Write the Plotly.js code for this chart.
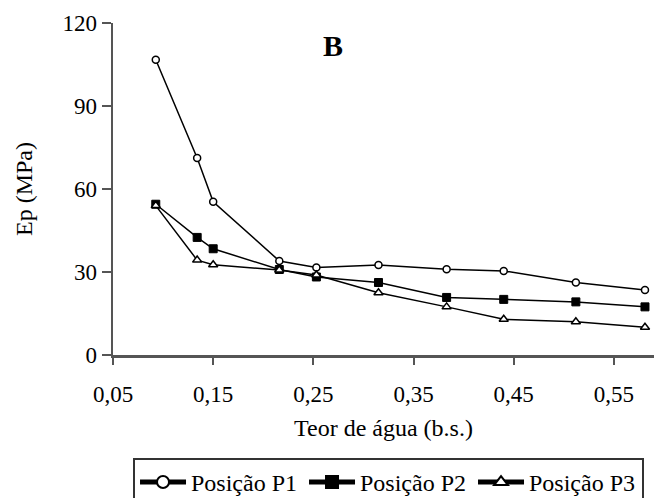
<!DOCTYPE html>
<html>
<head>
<meta charset="utf-8">
<script src="https://cdn.plot.ly/plotly-3.0.1.min.js"></script>
<style>html,body{margin:0;padding:0;background:#fff;}#chart{width:654px;height:498px;}</style>
</head>
<body>
<div id="chart"></div>
<script>
// Data
const teorAgua = [0.0927, 0.134, 0.150, 0.216, 0.253, 0.315, 0.383, 0.440, 0.512, 0.581];
const epP1 = [106.7, 71.2, 55.4, 34.0, 31.6, 32.5, 31.0, 30.4, 26.2, 23.5];
const epP2 = [54.5, 42.5, 38.4, 30.9, 28.2, 26.2, 20.8, 20.1, 19.2, 17.4];
const epP3 = [54.0, 34.3, 32.6, 30.7, 28.9, 22.5, 17.4, 12.9, 12.0, 10.0];
const seriesNames = ["Posição P1", "Posição P2", "Posição P3"];
const yTicks = [0, 30, 60, 90, 120];
const xTicks = [0.05, 0.15, 0.25, 0.35, 0.45, 0.55];

const FONT = "'Liberation Serif', 'Times New Roman', serif";
const lineStyle = {color: "#000", width: 1.5};

const traces = [
  {x: teorAgua, y: epP1, name: seriesNames[0], mode: "lines+markers", line: lineStyle,
   marker: {symbol: "circle", size: 7, color: "#fff", line: {color: "#000", width: 1.5}}},
  {x: teorAgua, y: epP2, name: seriesNames[1], mode: "lines+markers", line: lineStyle,
   marker: {symbol: "square", size: 8, color: "#000", line: {color: "#000", width: 1}}},
  {x: teorAgua, y: epP3, name: seriesNames[2], mode: "lines+markers", line: lineStyle,
   marker: {symbol: "triangle-up", size: 8, color: "#fff", line: {color: "#000", width: 1.5}}}
];

const layout = {
  width: 654, height: 498,
  margin: {l: 113, r: 0, t: 22.5, b: 143, autoexpand: false},
  paper_bgcolor: "#fff", plot_bgcolor: "#fff",
  separators: ",.",
  font: {family: FONT, size: 23, color: "#000"},
  showlegend: true,
  xaxis: {
    range: [0.05, 0.59], tickvals: xTicks, tickformat: ".2f",
    showgrid: false, zeroline: false,
    showline: true, linecolor: "#555", linewidth: 2.5,
    ticks: "outside", ticklen: 7, tickwidth: 2, tickcolor: "#555",
    ticklabelstandoff: 10,
    tickfont: {family: FONT, size: 23},
    title: {text: "Teor de água (b.s.)", font: {family: FONT, size: 24}, standoff: 13}
  },
  yaxis: {
    range: [0, 120], tickvals: yTicks,
    showgrid: false, zeroline: false,
    showline: true, linecolor: "#555", linewidth: 2.5,
    ticks: "outside", ticklen: 9, tickwidth: 2, tickcolor: "#555",
    ticklabelstandoff: 0,
    tickfont: {family: FONT, size: 23},
    title: {text: "Ep (MPa)", font: {family: FONT, size: 24}, standoff: 23}
  },
  legend: {
    orientation: "h", x: 0.037, y: -0.31, xanchor: "left", yanchor: "top",
    bordercolor: "#333", borderwidth: 2, bgcolor: "#fff",
    font: {family: FONT, size: 24},
    itemwidth: 46,
    entrywidth: 108, entrywidthmode: "pixels",
    itemsizing: "constant"
  },
  annotations: [{
    text: "<b>B</b>", xref: "paper", yref: "paper", x: 0.406, y: 0.932,
    xanchor: "center", yanchor: "middle",
    showarrow: false, font: {family: FONT, size: 30, color: "#000"}
  }]
};

Plotly.newPlot("chart", traces, layout, {displayModeBar: false, staticPlot: true});
</script>
</body>
</html>
